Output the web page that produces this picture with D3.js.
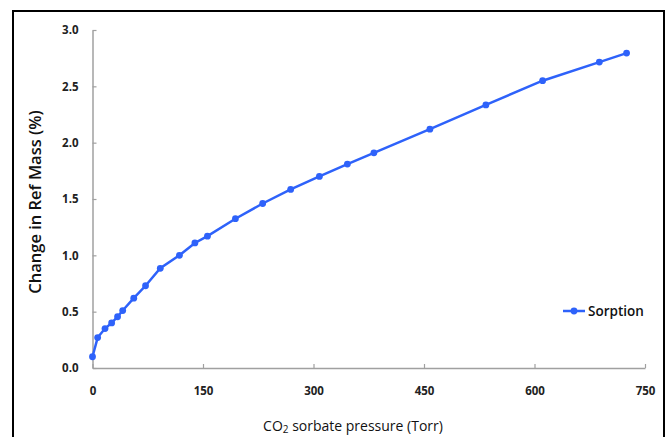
<!DOCTYPE html>
<html><head><meta charset="utf-8">
<script src="https://cdn.jsdelivr.net/npm/d3@7"></script>
<style>
html,body{margin:0;padding:0;background:#fff;}
svg{display:block;}
</style></head>
<body>
<script>
const pressure = [0, 7, 17, 26, 34, 41, 56, 72, 92, 118, 139, 156, 194, 231, 269, 308, 346, 382, 458, 534, 611, 688, 725];
const sorption = [0.10, 0.27, 0.35, 0.40, 0.455, 0.51, 0.62, 0.73, 0.885, 1.00, 1.11, 1.17, 1.325, 1.46, 1.585, 1.70, 1.81, 1.91, 2.12, 2.335, 2.55, 2.715, 2.795];
const xTicks = [0, 150, 300, 450, 600, 750];
const yTicks = [0, 0.5, 1.0, 1.5, 2.0, 2.5, 3.0];
const seriesName = "Sorption";

const W = 670, H = 437;
const svg = d3.select("body").append("svg").attr("width", W).attr("height", H);
const font = "'Open Sans', sans-serif";

// frame
svg.append("rect").attr("x", 13).attr("y", 11).attr("width", 651).attr("height", 440)
  .attr("fill", "none").attr("stroke", "#000").attr("stroke-width", 2);

const x = d3.scaleLinear().domain([0, 750]).range([92.5, 645]);
const y = d3.scaleLinear().domain([0, 3]).range([368, 30]);

const xa = svg.append("g").attr("transform", "translate(0,368)")
  .call(d3.axisBottom(x).tickValues(xTicks).tickSizeInner(-4).tickSizeOuter(0).tickPadding(14).tickFormat(d3.format("d")));
const ya = svg.append("g").attr("transform", "translate(92.5,0)")
  .call(d3.axisLeft(y).tickValues(yTicks).tickSizeInner(-4).tickSizeOuter(0).tickPadding(14).tickFormat(d3.format(".1f")));
[xa, ya].forEach(a => {
  a.select(".domain").attr("stroke", "#a0a0a0").attr("stroke-width", 1.5);
  a.selectAll(".tick line").attr("stroke", "#a0a0a0").attr("stroke-width", 1.2);
  a.selectAll(".tick text").attr("fill", "#222").attr("font-family", font)
    .attr("font-weight", 700).attr("font-size", 11.5);
});
xa.selectAll(".tick text").attr("dy", "1.15em");

svg.append("text").attr("x", 353).attr("y", 431).attr("text-anchor", "middle")
  .attr("font-family", font).attr("font-size", 14).attr("fill", "#111")
  .html('CO<tspan font-size="10" dy="2">2</tspan><tspan dy="-2"> sorbate pressure (Torr)</tspan>');
svg.append("text").attr("transform", "translate(41,202) rotate(-90)").attr("text-anchor", "middle")
  .attr("font-family", font).attr("font-size", 16.5).attr("font-weight", 600).attr("fill", "#111")
  .text("Change in Ref Mass (%)");

const color = "#2E62FA";
const data = pressure.map((p, i) => ({p, v: sorption[i]}));
svg.append("path").datum(data)
  .attr("fill", "none").attr("stroke", color).attr("stroke-width", 2.5)
  .attr("d", d3.line().x(d => x(d.p)).y(d => y(d.v)));
svg.selectAll(".pt").data(data).enter().append("circle")
  .attr("cx", d => x(d.p)).attr("cy", d => y(d.v)).attr("r", 3.4).attr("fill", color);

const lg = svg.append("g").attr("transform", "translate(563,311)");
lg.append("line").attr("x1", 0).attr("x2", 22).attr("stroke", color).attr("stroke-width", 2.5);
lg.append("circle").attr("cx", 11).attr("r", 3.4).attr("fill", color);
lg.append("text").attr("x", 25).attr("y", 5).attr("font-family", font).attr("font-weight", 600)
  .attr("font-size", 13.5).attr("fill", "#111").text(seriesName);
</script>
</body></html>
